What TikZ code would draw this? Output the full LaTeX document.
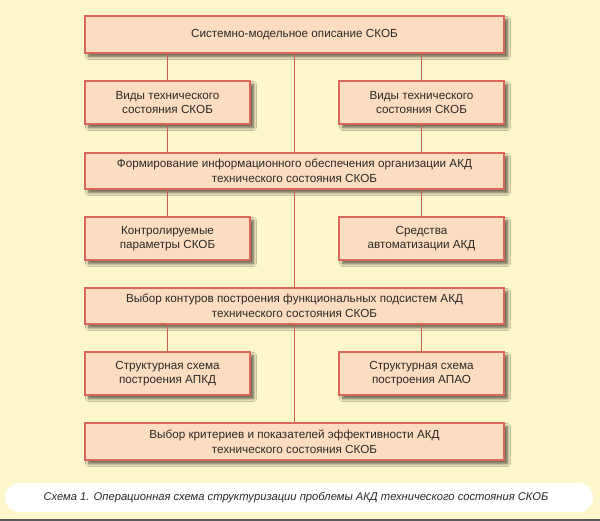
\documentclass[tikz,border=0pt]{standalone}
\usepackage{fontspec}
\setmainfont{Liberation Sans}
\usetikzlibrary{shadows.blur}
\definecolor{paper}{HTML}{FEF7CB}
\definecolor{boxfill}{HTML}{FCDDC2}
\definecolor{boxline}{HTML}{D9685A}
\definecolor{linkline}{HTML}{CC5E50}
\definecolor{ink}{HTML}{2E2826}
\tikzset{
  box/.style={draw=boxline, line width=1.1pt, fill=boxfill, text=ink,
    align=center, inner sep=0pt, font=\fontsize{11.7}{14.5}\selectfont,
    blur shadow={shadow xshift=3.5pt, shadow yshift=-3.5pt,
      shadow blur radius=3pt, shadow blur steps=8, shadow opacity=65}},
  wide/.style={box, minimum width=419pt},
  narrow/.style={box, minimum width=165pt, minimum height=43pt},
  link/.style={draw=linkline, line width=1pt},
}
\begin{document}
\begin{tikzpicture}[x=1pt, y=-1pt]
  % page
  \fill[paper] (0,0) rectangle (600,521);
  \useasboundingbox (0,0) rectangle (600,521);
  \draw[black!65, line width=2pt] (0,519.5) -- (600,519.5);

  % caption band
  \fill[white, rounded corners=14pt] (5,483) rectangle (593,512);
  \node[text=ink, font=\fontsize{11.2}{13}\itshape] (cap) at (296,497.5)
    {Схема 1. Операционная схема структуризации проблемы АКД технического состояния СКОБ};

  % x position of the centre spine
  \coordinate (cx1) at (294,53);

  % boxes
  \node[wide, minimum height=37pt] (top) at (294.5,34.5)
    {Системно-модельное описание СКОБ};
  \node[narrow] (l1) at (167.5,102.5) {Виды технического\\состояния СКОБ};
  \node[narrow] (r1) at (421.5,102.5) {Виды технического\\состояния СКОБ};
  \node[wide, minimum height=36pt] (m2) at (294.5,171)
    {Формирование информационного обеспечения организации АКД\\технического состояния СКОБ};
  \node[narrow] (l2) at (167.5,238.5) {Контролируемые\\параметры СКОБ};
  \node[narrow] (r2) at (421.5,238.5) {Средства\\автоматизации АКД};
  \node[wide, minimum height=36pt] (m3) at (294.5,306)
    {Выбор контуров построения функциональных подсистем АКД\\технического состояния СКОБ};
  \node[narrow] (l3) at (167.5,373.5) {Структурная схема\\построения АПКД};
  \node[narrow] (r3) at (421.5,373.5) {Структурная схема\\построения АПАО};
  \node[wide, minimum height=37pt] (m4) at (294.5,441.5)
    {Выбор критериев и показателей эффективности АКД\\технического состояния СКОБ};

  % centre spine
  \draw[link] (top.south -| cx1) -- (m2.north -| cx1);
  \draw[link] (m2.south -| cx1) -- (m3.north -| cx1);
  \draw[link] (m3.south -| cx1) -- (m4.north -| cx1);
  % side branches
  \draw[link] (l1.north) -- (l1.north |- top.south);
  \draw[link] (l1.south) -- (l1.south |- m2.north);
  \draw[link] (r1.north) -- (r1.north |- top.south);
  \draw[link] (r1.south) -- (r1.south |- m2.north);
  \draw[link] (l2.north) -- (l2.north |- m2.south);
  \draw[link] (r2.north) -- (r2.north |- m2.south);
  \draw[link] (l3.north) -- (l3.north |- m3.south);
  \draw[link] (r3.north) -- (r3.north |- m3.south);
\end{tikzpicture}
\end{document}
